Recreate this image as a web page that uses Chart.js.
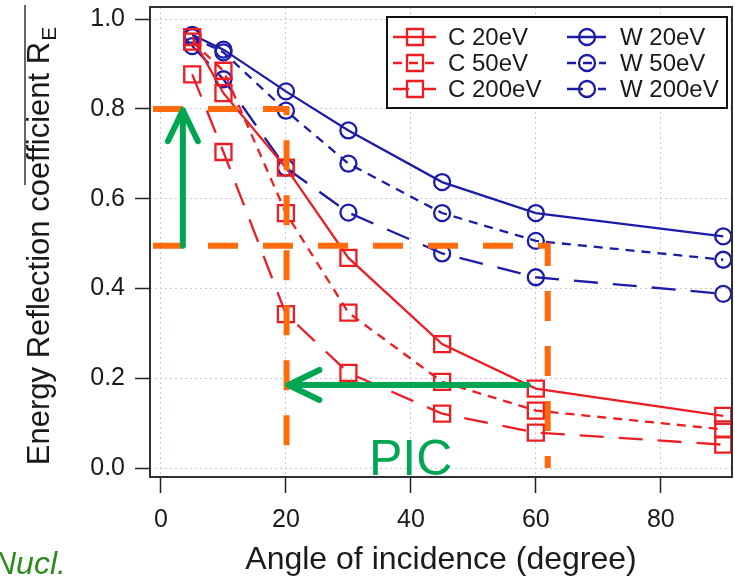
<!DOCTYPE html>
<html>
<head>
<meta charset="utf-8">
<script src="https://cdn.jsdelivr.net/npm/chart.js@4.4.0/dist/chart.umd.min.js"></script>
<style>
  html, body { margin: 0; padding: 0; background: #ffffff; }
  #wrap { width: 735px; height: 582px; }
</style>
</head>
<body>
<div id="wrap"><canvas id="chart" width="735" height="582"></canvas></div>
<script>
// Angle of incidence (degree)
const angles = [5, 10, 20, 30, 45, 60, 90];

// Energy reflection coefficient R_E, carbon
const c20eV  = [0.960, 0.835, 0.669, 0.468, 0.276, 0.177, 0.116];
const c50eV  = [0.950, 0.885, 0.568, 0.346, 0.192, 0.128, 0.086];
const c200eV = [0.877, 0.704, 0.343, 0.212, 0.121, 0.079, 0.052];

// Energy reflection coefficient R_E, tungsten
const w20eV  = [0.965, 0.932, 0.839, 0.752, 0.637, 0.568, 0.516];
const w50eV  = [0.960, 0.926, 0.796, 0.678, 0.568, 0.506, 0.464];
const w200eV = [0.940, 0.866, 0.669, 0.569, 0.478, 0.425, 0.388];

const seriesNames = ['C 20eV', 'C 50eV', 'C 200eV', 'W 20eV', 'W 50eV', 'W 200eV'];

const xTickValues = [0, 20, 40, 60, 80];
const yTickValues = [0.0, 0.2, 0.4, 0.6, 0.8, 1.0];

// Guide lines: reading R_E = 0.8 and 0.5 off the curves
const guideLevels = [0.8, 0.495];
const guideAngles = [20.1, 61.9];

const FONT = '"Liberation Sans", Arial, Helvetica, sans-serif';
const INK = '#1a1a1a';
const RED = '#ec1e24';
const BLUE = '#1c1ca8';
const GREEN = '#00a651';
const ORANGE = '#ff6a0d';
const GRID = '#c6c6e6';
const SHORT_DASH = [9, 7];
const LONG_DASH = [24, 15];
const MARK = 8;   // half-size of square / radius of circle markers

function series(label, values, color, dash, style) {
  return {
    label: label,
    data: angles.map((a, i) => ({ x: a, y: values[i] })),
    borderColor: color,
    borderWidth: 2.3,
    borderDash: dash,
    pointStyle: style,
    pointRadius: style === 'rect' ? MARK * Math.SQRT2 : MARK,
    pointBorderWidth: 2.3,
    pointBorderColor: color,
    pointBackgroundColor: 'rgba(0,0,0,0)',
    fill: false,
    tension: 0,
    clip: false
  };
}

const datasets = [
  series(seriesNames[0], c20eV,  RED,  [],         'rect'),
  series(seriesNames[1], c50eV,  RED,  SHORT_DASH, 'rect'),
  series(seriesNames[2], c200eV, RED,  LONG_DASH,  'rect'),
  series(seriesNames[3], w20eV,  BLUE, [],         'circle'),
  series(seriesNames[4], w50eV,  BLUE, SHORT_DASH, 'circle'),
  series(seriesNames[5], w200eV, BLUE, LONG_DASH,  'circle')
];

function marker(ctx, style, x, y, color) {
  ctx.save();
  ctx.setLineDash([]);
  ctx.strokeStyle = color;
  ctx.lineWidth = 2.3;
  ctx.beginPath();
  if (style === 'rect') {
    ctx.rect(x - MARK, y - MARK, 2 * MARK, 2 * MARK);
  } else {
    ctx.arc(x, y, MARK, 0, Math.PI * 2);
  }
  ctx.stroke();
  ctx.restore();
}

function noPadding(s) {
  s.paddingTop = 0;
  s.paddingBottom = 0;
  s.paddingLeft = 0;
  s.paddingRight = 0;
}

const decorations = {
  id: 'decorations',
  afterDatasetsDraw(chart) {
    const ctx = chart.ctx;
    const a = chart.chartArea;
    const xs = chart.scales.x, ys = chart.scales.y;

    // plot frame
    ctx.save();
    ctx.strokeStyle = '#303030';
    ctx.lineWidth = 2;
    ctx.strokeRect(a.left, a.top, a.right - a.left, a.bottom - a.top);
    ctx.restore();

    // legend box, two columns
    const bx = a.right - 5, by = a.top + 10, bw = 340, bh = 91;
    const left = bx - bw;
    ctx.save();
    ctx.fillStyle = '#ffffff';
    ctx.fillRect(left, by, bw, bh);
    ctx.strokeStyle = '#111';
    ctx.lineWidth = 2;
    ctx.strokeRect(left, by, bw, bh);
    ctx.font = '24px ' + FONT;
    ctx.textBaseline = 'middle';
    ctx.textAlign = 'left';
    const cols = [
      { s0: 6, s1: 49, m: 28, t: 61 },
      { s0: 180, s1: 219, m: 200, t: 233 }
    ];
    chart.data.datasets.forEach((ds, i) => {
      const c = cols[Math.floor(i / 3)];
      const y = by + 20 + (i % 3) * 26;
      ctx.save();
      ctx.strokeStyle = ds.borderColor;
      ctx.lineWidth = 2.3;
      ctx.setLineDash(ds.borderDash);
      ctx.lineDashOffset = ds.borderDash === LONG_DASH ? 8 : 0;
      ctx.beginPath();
      ctx.moveTo(left + c.s0, y);
      ctx.lineTo(left + c.s1, y);
      ctx.stroke();
      ctx.restore();
      marker(ctx, ds.pointStyle, left + c.m, y, ds.borderColor);
      ctx.fillStyle = INK;
      ctx.fillText(ds.label, left + c.t, y + 1);
    });
    ctx.restore();

    // orange guide lines
    ctx.save();
    ctx.strokeStyle = ORANGE;
    ctx.lineWidth = 6;
    ctx.setLineDash([30, 25]);
    ctx.lineCap = 'butt';
    guideLevels.forEach((lvl, i) => {
      ctx.beginPath();
      ctx.moveTo(a.left + 3, ys.getPixelForValue(lvl));
      ctx.lineTo(xs.getPixelForValue(guideAngles[i]), ys.getPixelForValue(lvl));
      ctx.lineTo(xs.getPixelForValue(guideAngles[i]), ys.getPixelForValue(0));
      ctx.stroke();
    });
    ctx.restore();

    // green arrows
    ctx.save();
    ctx.strokeStyle = GREEN;
    ctx.lineWidth = 6;
    ctx.lineCap = 'round';
    ctx.lineJoin = 'round';
    const vx = xs.getPixelForValue(3.5);
    const vy0 = ys.getPixelForValue(0.495), vy1 = ys.getPixelForValue(0.797);
    ctx.beginPath();
    ctx.moveTo(vx, vy0); ctx.lineTo(vx, vy1);
    ctx.moveTo(vx - 15, vy1 + 31); ctx.lineTo(vx, vy1); ctx.lineTo(vx + 15, vy1 + 31);
    ctx.stroke();
    const hy = ys.getPixelForValue(0.185);
    const hx0 = xs.getPixelForValue(58.7), hx1 = xs.getPixelForValue(20.4);
    ctx.beginPath();
    ctx.moveTo(hx0, hy); ctx.lineTo(hx1, hy);
    ctx.moveTo(hx1 + 31, hy - 15); ctx.lineTo(hx1, hy); ctx.lineTo(hx1 + 31, hy + 15);
    ctx.stroke();
    ctx.restore();

    ctx.save();
    ctx.fillStyle = GREEN;
    ctx.font = '50px ' + FONT;
    ctx.textBaseline = 'alphabetic';
    ctx.textAlign = 'left';
    ctx.fillText('PIC', 369, 475);
    ctx.restore();
  },
  afterDraw(chart) {
    const ctx = chart.ctx;
    const a = chart.chartArea;
    ctx.save();
    ctx.fillStyle = INK;
    // x-axis title
    ctx.font = '32px ' + FONT;
    ctx.textAlign = 'center';
    ctx.textBaseline = 'alphabetic';
    ctx.fillText('Angle of incidence (degree)', (a.left + a.right) / 2, 569);

    // y-axis title with subscript
    const main = 'Energy Reflection coefficient R';
    ctx.font = '31px ' + FONT;
    const wMain = ctx.measureText(main).width;
    ctx.font = '21px ' + FONT;
    const wSub = ctx.measureText('E').width;
    const total = wMain + 1 + wSub;
    const cy = 246;
    ctx.translate(49, cy + total / 2);
    ctx.rotate(-Math.PI / 2);
    ctx.textAlign = 'left';
    ctx.font = '31px ' + FONT;
    ctx.fillText(main, 0, 0);
    ctx.font = '21px ' + FONT;
    ctx.fillText('E', wMain + 1, 7);
    ctx.restore();

    // overbar
    ctx.save();
    ctx.strokeStyle = '#333';
    ctx.lineWidth = 1.5;
    ctx.beginPath();
    ctx.moveTo(25, 5);
    ctx.lineTo(25, 185);
    ctx.stroke();
    ctx.restore();

    // citation fragment
    ctx.save();
    ctx.fillStyle = '#2f8c1c';
    ctx.font = 'italic 32px ' + FONT;
    ctx.textAlign = 'left';
    ctx.textBaseline = 'alphabetic';
    ctx.fillText('Nucl.', -7, 574);
    ctx.restore();
  }
};

new Chart(document.getElementById('chart'), {
  type: 'line',
  data: { datasets: datasets },
  options: {
    responsive: false,
    animation: false,
    devicePixelRatio: 1,
    events: [],
    layout: { autoPadding: false, padding: { left: 0, right: 3, top: 7, bottom: 0 } },
    plugins: { legend: { display: false }, tooltip: { enabled: false } },
    scales: {
      x: {
        type: 'linear',
        min: -1.76,
        max: 91.4,
        afterBuildTicks: s => { s.ticks = xTickValues.map(v => ({ value: v })); },
        afterFit: s => { s.height = 105; noPadding(s); },
        grid: { color: GRID, lineWidth: 1, drawTicks: true, tickLength: 16, tickColor: '#222', tickWidth: 1.5 },
        border: { display: false, dash: [2, 3] },
        ticks: {
          font: { family: FONT, size: 25 },
          color: INK,
          padding: 12,
          maxRotation: 0,
          autoSkip: false,
          callback: v => String(v)
        }
      },
      y: {
        type: 'linear',
        min: -0.02,
        max: 1.027,
        afterBuildTicks: s => { s.ticks = yTickValues.map(v => ({ value: v })); },
        afterFit: s => { s.width = 150; noPadding(s); },
        grid: { color: GRID, lineWidth: 1, drawTicks: true, tickLength: 15, tickColor: '#222', tickWidth: 1.5 },
        border: { display: false, dash: [2, 3] },
        ticks: {
          font: { family: FONT, size: 25 },
          color: INK,
          padding: 10,
          autoSkip: false,
          callback: v => Number(v).toFixed(1)
        }
      }
    }
  },
  plugins: [decorations]
});
</script>
</body>
</html>
